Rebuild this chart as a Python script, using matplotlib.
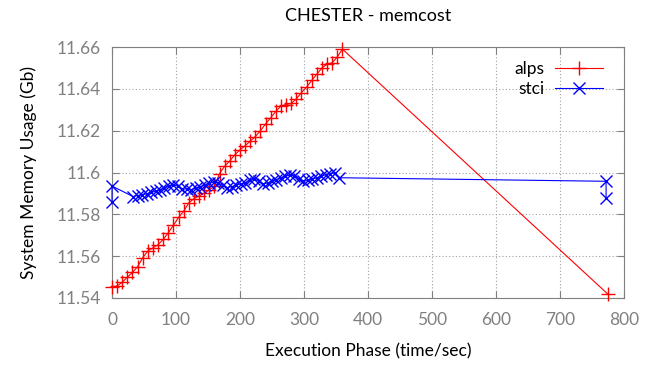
import matplotlib
matplotlib.use("Agg")
import matplotlib.pyplot as plt

alps_x = [0, 8, 16, 24, 32, 40, 48, 56, 64, 72, 80, 88, 96, 104, 112, 120, 128, 136,
          144, 152, 160, 168, 176, 184, 192, 200, 208, 216, 224, 232, 240, 248, 256,
          264, 272, 280, 288, 296, 304, 312, 320, 328, 336, 344, 352, 360, 775]
alps_y = [11.5453, 11.5458, 11.5475, 11.5500, 11.5522, 11.5550, 11.5592, 11.5625,
          11.5640, 11.5655, 11.5680, 11.5712, 11.5748, 11.5785, 11.5815, 11.5855,
          11.5875, 11.5888, 11.5900, 11.5918, 11.5935, 11.5995, 11.6030, 11.6055,
          11.6085, 11.6108, 11.6128, 11.6150, 11.6172, 11.6200, 11.6232, 11.6262,
          11.6292, 11.6318, 11.6325, 11.6330, 11.6352, 11.6382, 11.6408, 11.6440,
          11.6470, 11.6500, 11.6518, 11.6525, 11.6552, 11.6590, 11.5418]

stci_x = [0, 0, 33, 40, 47, 54, 61, 68, 75, 82, 89, 96, 103, 110, 117, 124, 131, 138,
          145, 152, 159, 166, 173, 180, 187, 194, 201, 208, 215, 222, 229, 236, 243,
          250, 257, 264, 271, 278, 285, 292, 299, 306, 313, 320, 327, 334, 341, 348,
          355, 772, 772]
stci_y = [11.5860, 11.5935, 11.5885, 11.5890, 11.5893, 11.5898, 11.5905, 11.5910,
          11.5918, 11.5925, 11.5935, 11.5940, 11.5935, 11.5920, 11.5922, 11.5918,
          11.5925, 11.5930, 11.5940, 11.5948, 11.5955, 11.5950, 11.5938, 11.5928,
          11.5932, 11.5940, 11.5945, 11.5950, 11.5962, 11.5968, 11.5960, 11.5945,
          11.5950, 11.5958, 11.5965, 11.5975, 11.5982, 11.5988, 11.5985, 11.5970,
          11.5958, 11.5962, 11.5968, 11.5975, 11.5982, 11.5990, 11.5995, 11.5998,
          11.5975, 11.5958, 11.5880]

x_ticks = [0, 100, 200, 300, 400, 500, 600, 700, 800]
y_ticks = [11.54, 11.56, 11.58, 11.60, 11.62, 11.64, 11.66]
y_tick_labels = ["11.54", "11.56", "11.58", "11.6", "11.62", "11.64", "11.66"]

plt.rcParams['font.family'] = ['Lato', 'DejaVu Sans']

fig = plt.figure(figsize=(6.6, 3.67), dpi=100)
ax = fig.add_axes([112/660, 1-298/367, (624-112)/660, (298-47)/367])

ax.plot(alps_x, alps_y, color='#ff0000', lw=0.8, marker='+', ms=10, mew=1.0,
        label='alps', clip_on=False, zorder=3)
ax.plot(stci_x, stci_y, color='#0000ff', lw=0.8, marker='x', ms=8.5, mew=1.0,
        label='stci', clip_on=False, zorder=3)

ax.set_xlim(0, 800)
ax.set_ylim(11.54, 11.66)
ax.set_xticks(x_ticks)
ax.set_yticks(y_ticks)
ax.set_yticklabels(y_tick_labels)

gray = '#808080'
for s in ax.spines.values():
    s.set_color(gray)
    s.set_linewidth(0.8)
ax.grid(True, color='#a0a0a0', linestyle=(0, (1, 2)), linewidth=0.8)
ax.tick_params(axis='both', direction='in', length=5, color=gray, labelcolor=gray,
               labelsize=12.5, top=True, right=True)
ax.tick_params(axis='x', pad=10)
ax.tick_params(axis='y', pad=8)

ax.set_title('CHESTER - memcost', fontsize=13, pad=19)
ax.set_xlabel('Execution Phase (time/sec)', fontsize=12.5, labelpad=11)
ax.set_ylabel('System Memory Usage (Gb)', fontsize=12.5, labelpad=14)

leg = ax.legend(loc='upper right', frameon=False, markerfirst=False, fontsize=12.5,
                handlelength=2.76, handletextpad=0.63, borderaxespad=0.5,
                labelspacing=0.25, bbox_to_anchor=(0.99, 1.008))

fig.savefig('out.png', dpi=100)
